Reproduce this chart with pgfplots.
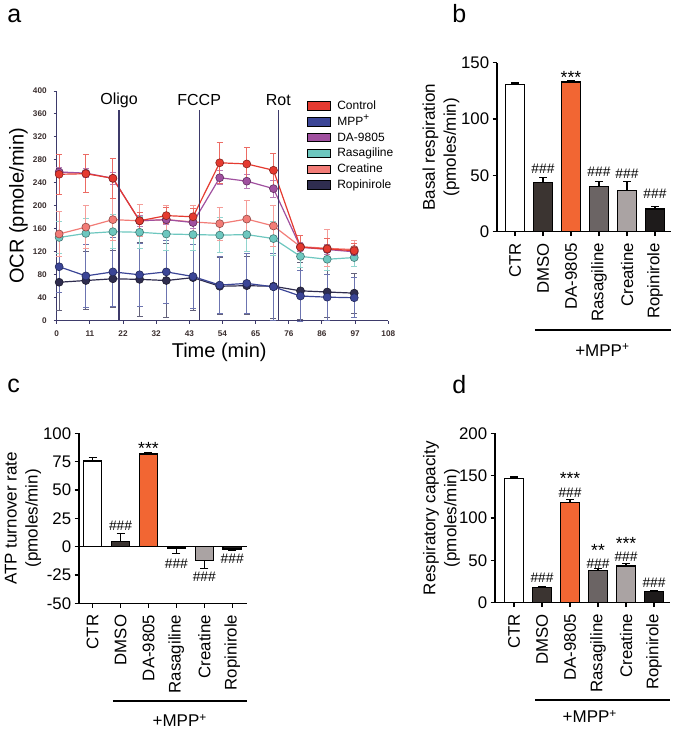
\documentclass[border=0pt]{standalone}
\usepackage{fontspec}
\setmainfont{Liberation Sans}
\usepackage{pgfplots}
\usepackage{pgfplotstable}
\pgfplotsset{compat=1.18}

\definecolor{ctrl}{HTML}{E53A30}
\definecolor{mpp}{HTML}{3B4596}
\definecolor{dac}{HTML}{A0509F}
\definecolor{ras}{HTML}{6DC7BF}
\definecolor{cre}{HTML}{F27C77}
\definecolor{rop}{HTML}{2F2D4F}
\definecolor{navyax}{HTML}{3D3A6A}
\definecolor{ticktxt}{HTML}{3A2E2E}
\definecolor{bDMSO}{HTML}{3B3431}
\definecolor{bDA}{HTML}{F26633}
\definecolor{bRAS}{HTML}{6B6464}
\definecolor{bCRE}{HTML}{AAA3A3}
\definecolor{bROP}{HTML}{1E1B1B}

% OCR time course, (mean, error) per group
\pgfplotstableread{
t    ctrl ectrl da  eda cre ecre ras eras mpp empp rop erop
0.8  255  35    259 8   151 40   145 28   94  45   67  50
9.5  256  33    257 8   163 37   152 26   78  55   70  50
18.3 248  35    248 10  176 36   155 30   85  60   73  50
27.0 174  15    174 10  174 28   154 28   80  55   72  65
35.7 183  14    176 8   176 25   151 28   85  55   70  65
44.4 181  15    171 10  172 28   150 28   77  55   75  57
53.1 275  36    249 12  169 29   149 30   62  50   60  50
61.9 273  28    243 12  177 33   150 30   65  52   61  50
70.6 262  30    230 15  165 36   143 30   59  58   60  57
79.4 128  20    128 8   129 20   112 20   43  45   52  50
88.1 125  18    124 8   126 32   107 20   41  40   50  45
96.9 122  12    120 8   124 15   110 15   40  35   48  35
}\ocr

\pgfplotsset{
  ser/.style={color=#1, line width=0.6pt, mark=*, mark size=2pt,
    mark options={fill=#1, draw=#1!60!black, line width=0.3pt},
    error bars/y dir=both, error bars/y explicit,
    error bars/error bar style={#1!75!white, line width=0.5pt},
    error bars/error mark options={rotate=90, mark size=1.5pt, #1!75!white, line width=0.5pt}},
  bb/.style={ybar, bar width=9.15pt, bar shift=0pt, draw=black, line width=0.6pt,
    error bars/y explicit,
    error bars/error bar style={black, line width=0.6pt},
    error bars/error mark options={rotate=90, mark size=2pt, black, line width=0.6pt}},
  barpanel/.style={
    scale only axis, anchor=south west, clip=false,
    axis x line*=bottom, axis y line*=left,
    axis line style={line width=0.7pt, black},
    tick style={line width=0.7pt, black},
    tick align=outside, major tick length=2.2pt,
    xtick={0,...,5}, xticklabels={CTR,DMSO,DA-9805,Rasagiline,Creatine,Ropinirole},
    xticklabel style={rotate=90, anchor=east},
    yticklabel style={xshift=1.8pt},
    tick label style={font=\fontsize{8.4}{10}\selectfont},
    /pgf/number format/assume math mode=true,
    ylabel style={align=center, font=\fontsize{8.5}{10.5}\selectfont, anchor=center},
  },
}
\tikzset{
  hh/.style={font=\fontsize{6.9}{8}\selectfont, anchor=center, inner sep=0pt},
  ss/.style={font=\fontsize{8.8}{9}\selectfont, anchor=center, inner sep=0pt, yshift=-2pt},
}

\begin{document}
\begin{tikzpicture}
\path[use as bounding box] (0,0) rectangle (337.5pt,-365pt);

% ---- a ----
\begin{axis}[at={(28.35pt,-160.35pt)}, anchor=south west, scale only axis,
  width=165.8pt, height=114.85pt, clip=false,
  xmin=0, xmax=108, ymin=0, ymax=400,
  axis x line*=bottom, axis y line*=left,
  axis line style={navyax, line width=0.5pt},
  tick style={navyax, line width=0.5pt}, tick align=outside, major tick length=1.5pt,
  xtick={0,10.8,21.6,32.4,43.2,54,64.8,75.6,86.4,97.2,108},
  xticklabels={0,11,22,32,43,54,65,76,86,97,108},
  ytick={0,40,...,400},
  tick label style={font=\fontsize{4.1}{5}\selectfont\bfseries, text=ticktxt},
  /pgf/number format/assume math mode=true,
  xlabel={Time (min)}, ylabel={OCR (pmole/min)},
  label style={font=\fontsize{10}{11}\selectfont},
  xlabel style={at={(axis description cs:0.49,-0.136)}, anchor=center},
  ylabel style={at={(axis description cs:-0.115,0.5)}, anchor=center},
  legend image code/.code={\fill[#1] (0pt,-2.1pt) rectangle (11.5pt,2.1pt);},
  legend style={at={(axis description cs:0.754,0.965)}, anchor=north west,
    draw=none, fill=none, inner sep=0pt, row sep=1.3pt,
    nodes={inner sep=0.6pt, text height=4.4pt, text depth=1pt},
    /tikz/every odd column/.append style={column sep=2.6pt},
    font=\fontsize{6}{7}\selectfont},
  legend cell align=left,
]
\addplot[ser=rop, forget plot] table[x=t, y=rop, y error=erop] \ocr;
\addplot[ser=mpp, forget plot] table[x=t, y=mpp, y error=empp] \ocr;
\addplot[ser=ras, forget plot] table[x=t, y=ras, y error=eras] \ocr;
\addplot[ser=cre, forget plot] table[x=t, y=cre, y error=ecre] \ocr;
\addplot[ser=dac, forget plot] table[x=t, y=da, y error=eda] \ocr;
\addplot[ser=ctrl, forget plot] table[x=t, y=ctrl, y error=ectrl] \ocr;
\addlegendimage{fill=ctrl}
\addlegendimage{fill=mpp}
\addlegendimage{fill=dac}
\addlegendimage{fill=ras}
\addlegendimage{fill=cre}
\addlegendimage{fill=rop}
\legend{Control, MPP\textsuperscript{+}, DA-9805, Rasagiline, Creatine, Ropinirole}
\draw[navyax, line width=0.6pt] (axis cs:20.3,0) -- (axis cs:20.3,367);
\draw[navyax, line width=0.6pt] (axis cs:46.4,0) -- (axis cs:46.4,367);
\draw[navyax, line width=0.6pt] (axis cs:72.2,0) -- (axis cs:72.2,367);
\node[font=\fontsize{8}{9}\selectfont] at (axis cs:20.3,384) {Oligo};
\node[font=\fontsize{8}{9}\selectfont] at (axis cs:46.4,384) {FCCP};
\node[font=\fontsize{8}{9}\selectfont] at (axis cs:72.2,384) {Rot};
\end{axis}

% ---- b ----
\begin{axis}[barpanel, at={(248.5pt,-115.85pt)}, width=87pt, height=84.5pt,
  xmin=-0.643, xmax=5.571, ymin=0, ymax=150, ytick={0,50,100,150},
  ylabel={Basal respiration\\(pmoles/min)},
  ylabel style={at={(axis description cs:-0.322,0.5)}},
]
\addplot[bb, fill=white, error bars/y dir=plus] coordinates {(0,130.5) +- (0,1.5)};
\addplot[bb, fill=bDMSO, error bars/y dir=plus] coordinates {(1,43.8) +- (0,4.5)};
\addplot[bb, fill=bDA, error bars/y dir=plus] coordinates {(2,132.8) +- (0,1)};
\addplot[bb, fill=bRAS, error bars/y dir=plus] coordinates {(3,40) +- (0,4.7)};
\addplot[bb, fill=bCRE, error bars/y dir=plus] coordinates {(4,36.4) +- (0,8)};
\addplot[bb, fill=bROP, error bars/y dir=plus] coordinates {(5,20.2) +- (0,2.5)};
\node[hh] at (axis cs:1,56.2) {\#\#\#};
\node[ss] at (axis cs:2,140.5) {***};
\node[hh] at (axis cs:3,53.2) {\#\#\#};
\node[hh] at (axis cs:4,51.8) {\#\#\#};
\node[hh] at (axis cs:5,33.5) {\#\#\#};
\draw[line width=0.7pt] (rel axis cs:0.218,-0.582) -- (rel axis cs:1,-0.582);
\node[font=\fontsize{8.5}{9}\selectfont] at (rel axis cs:0.607,-0.70) {+MPP\textsuperscript{+}};
\end{axis}

% ---- c ----
\begin{axis}[barpanel, at={(39.5pt,-301.65pt)}, width=84pt, height=85pt,
  xmin=-0.49, xmax=5.53, ymin=-50, ymax=100, ytick={-50,-25,0,25,50,75,100},
  ylabel={ATP turnover rate\\(pmoles/min)},
  ylabel style={at={(axis description cs:-0.333,0.5)}},
]
\addplot[bb, fill=white, error bars/y dir=plus] coordinates {(0,75.6) +- (0,3.3)};
\addplot[bb, fill=bDMSO, error bars/y dir=plus] coordinates {(1,4.7) +- (0,7)};
\addplot[bb, fill=bDA, error bars/y dir=plus] coordinates {(2,81.8) +- (0,1.5)};
\addplot[bb, fill=bRAS, error bars/y dir=minus] coordinates {(3,-1.2) +- (0,4.7)};
\addplot[bb, fill=bCRE, error bars/y dir=minus] coordinates {(4,-12) +- (0,7)};
\addplot[bb, fill=bROP, error bars/y dir=minus] coordinates {(5,-2) +- (0,1.5)};
\draw[line width=0.7pt] (axis cs:-0.49,0) -- (axis cs:5.53,0);
\node[hh] at (axis cs:1,18.3) {\#\#\#};
\node[ss] at (axis cs:2,89.8) {***};
\node[hh] at (axis cs:3,-14.7) {\#\#\#};
\node[hh] at (axis cs:4,-27) {\#\#\#};
\node[hh] at (axis cs:5,-11) {\#\#\#};
\draw[line width=0.7pt] (rel axis cs:0.202,-0.575) -- (rel axis cs:1,-0.575);
\node[font=\fontsize{8.5}{9}\selectfont] at (rel axis cs:0.601,-0.69) {+MPP\textsuperscript{+}};
\end{axis}

% ---- d ----
\begin{axis}[barpanel, at={(247.5pt,-301.35pt)}, width=87.5pt, height=84.65pt,
  xmin=-0.68, xmax=5.57, ymin=0, ymax=200, ytick={0,50,100,150,200},
  ylabel={Respiratory capacity\\(pmoles/min)},
  ylabel style={at={(axis description cs:-0.306,0.5)}},
]
\addplot[bb, fill=white, error bars/y dir=plus] coordinates {(0,146.9) +- (0,1.5)};
\addplot[bb, fill=bDMSO, error bars/y dir=plus] coordinates {(1,17.5) +- (0,1)};
\addplot[bb, fill=bDA, error bars/y dir=plus] coordinates {(2,118) +- (0,4)};
\addplot[bb, fill=bRAS, error bars/y dir=plus] coordinates {(3,37.8) +- (0,3)};
\addplot[bb, fill=bCRE, error bars/y dir=plus] coordinates {(4,43.3) +- (0,3)};
\addplot[bb, fill=bROP, error bars/y dir=plus] coordinates {(5,13) +- (0,1)};
\node[hh] at (axis cs:1,29) {\#\#\#};
\node[ss] at (axis cs:2,151) {***};
\node[hh] at (axis cs:2,129.3) {\#\#\#};
\node[ss] at (axis cs:3,67) {**};
\node[hh] at (axis cs:3,46) {\#\#\#};
\node[ss] at (axis cs:4,74.5) {***};
\node[hh] at (axis cs:4,53.8) {\#\#\#};
\node[hh] at (axis cs:5,23) {\#\#\#};
\draw[line width=0.7pt] (rel axis cs:0.229,-0.575) -- (rel axis cs:1,-0.575);
\node[font=\fontsize{8.5}{9}\selectfont] at (rel axis cs:0.543,-0.673) {+MPP\textsuperscript{+}};
\end{axis}

\node[anchor=base west, font=\fontsize{12.5}{13}\selectfont, inner sep=0pt] at (3.5pt,-11pt) {a};
\node[anchor=base west, font=\fontsize{12.5}{13}\selectfont, inner sep=0pt] at (226pt,-11pt) {b};
\node[anchor=base west, font=\fontsize{12.5}{13}\selectfont, inner sep=0pt] at (3.5pt,-196pt) {c};
\node[anchor=base west, font=\fontsize{12.5}{13}\selectfont, inner sep=0pt] at (226pt,-196.5pt) {d};
\end{tikzpicture}
\end{document}
